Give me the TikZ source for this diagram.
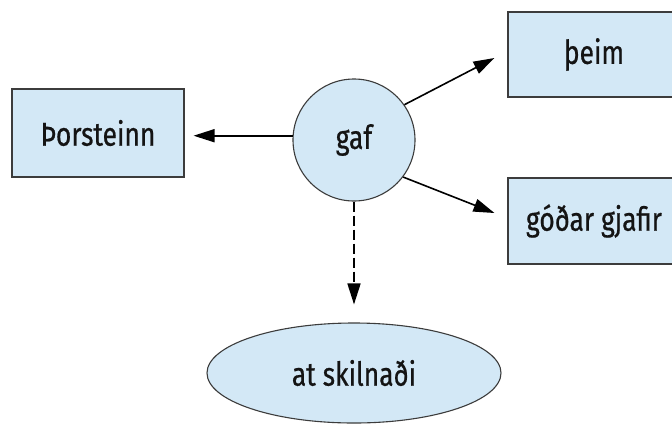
\documentclass[tikz,border=0pt]{standalone}
\usepackage{fontspec}
\setmainfont{Fira Sans}[FakeStretch=0.8,FakeBold=0.6]
\usetikzlibrary{arrows.meta,shapes.geometric}
\definecolor{nodefill}{RGB}{211,232,246}
\definecolor{nodeline}{RGB}{60,60,60}
\definecolor{txt}{RGB}{20,20,20}
\tikzset{
  base/.style={draw=nodeline, line width=1.1pt, fill=nodefill, text=txt,
    font=\fontsize{33}{38}\selectfont, inner sep=0pt},
  box/.style={base, rectangle, minimum width=172pt},
  circ/.style={base, circle, minimum size=122pt},
  ell/.style={base, ellipse, minimum width=294pt, minimum height=100pt},
  arr/.style={line width=1.6pt, -{Triangle[length=21pt,width=13pt]}},
  darr/.style={arr, dash pattern=on 10pt off 4pt},
}
\begin{document}
\begin{tikzpicture}[x=1pt,y=-1pt]
\useasboundingbox (0,0) rectangle (672,424);
\fill[white] (0,0) rectangle (672,424);
\begin{scope}
\clip (0,0) rectangle (672,424);
\node[box, minimum height=88pt] (tho) at (98,133) {Þorsteinn};
\node[box, minimum height=85pt] (theim) at (594,54.5) {þeim};
\node[box, minimum height=86pt] (godar) at (594,221) {góðar gjafir};
\node[circ] (gaf) at (354,140) {gaf};
\node[ell] (skil) at (354,373) {at skilnaði};
\end{scope}
\draw[arr, shorten >=9pt] (gaf.176) -- (tho.east |- gaf.176);
\draw[arr] (gaf.35) -- ([xshift=-13pt,yshift=-3.5pt]theim.west);
\draw[arr] (gaf.-37) -- ([xshift=-13pt,yshift=8pt]godar.west);
\draw[darr, shorten >=18pt] (gaf.south) -- (skil.north);
\end{tikzpicture}
\end{document}
